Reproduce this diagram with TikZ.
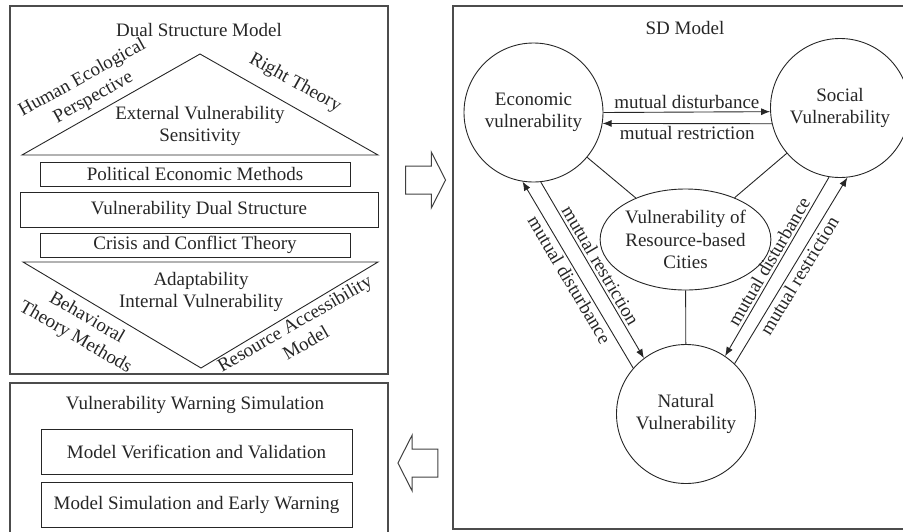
\documentclass[tikz,border=0pt]{standalone}
\usepackage{fontspec}
\setmainfont{Liberation Serif}
\usetikzlibrary{arrows.meta, positioning, shapes.geometric, shapes.arrows}

\begin{document}
\begin{tikzpicture}[
  x=1pt, y=-1pt,
  color=black!85,
  font=\fontsize{19}{22.5}\selectfont,
  >=Latex,
  frame/.style={draw=black!70,line width=1.4pt},
  box/.style={draw,line width=1pt,minimum height=24pt,inner sep=0pt},
  vul/.style={circle,draw,line width=0.9pt,minimum size=139pt,align=center,inner sep=0pt},
  core/.style={ellipse,draw,line width=0.9pt,minimum width=159pt,minimum height=101pt,align=center,inner sep=0pt},
  tag/.style={align=center,inner sep=0pt},
  arr/.style={-{Latex[length=9pt,width=7pt]},line width=0.9pt},
  link/.style={line width=0.9pt},
  lbl/.style={inner sep=2.5pt},
  bigarrow/.style={single arrow,draw=black!75,line width=1pt,minimum height=40pt,inner xsep=0pt,inner ysep=13.5pt,single arrow head extend=14pt,single arrow tip angle=126}
]
\clip (0,0) rectangle (903,531);
\draw[frame] (10,6) rectangle (388,374);
\draw[frame] (10,383) rectangle (388,545);
\draw[frame] (453,6) rectangle (915,529);

\node[tag] (dsmtitle) at (199,30) {Dual Structure Model};
\draw[link] (22,155) -- (200,54) -- (378,155) -- cycle;
\node[tag,rotate=29] (hep) at (88,88) {Human Ecological\\Perspective};
\node[tag,rotate=-29] (rt) at (295,83) {Right Theory};
\node[tag] (ext) at (200,126) {External Vulnerability\\Sensitivity};
\node[box,minimum width=310pt] (pem) at (195,174) {Political Economic Methods};
\node[box,minimum width=358pt,minimum height=35pt] (vds) at (199,209.5) {Vulnerability Dual Structure};
\node[box,minimum width=310pt] (cct) at (195,245) {Crisis and Conflict Theory};
\draw[link] (23,262) -- (378,262) -- (201,368) -- cycle;
\node[tag] (int) at (201,292) {Adaptability\\Internal Vulnerability};
\node[tag,rotate=-30] (btm) at (81,328) {Behavioral\\Theory Methods};
\node[tag,rotate=30] (ram) at (300,333) {Resource Accessibility\\Model};

\node[tag] (vwstitle) at (195,405) {Vulnerability Warning Simulation};
\node[box,minimum width=311pt,minimum height=45pt] (mvv) at (196.5,451.5) {Model Verification and Validation};
\node[box,minimum width=311pt,minimum height=45pt] (mse) at (196.5,504.5) {Model Simulation and Early Warning};

\node[bigarrow] (tosd) at (422,180) {};
\node[bigarrow,shape border rotate=180] (towarn) at (421.5,463) {};

\node[tag] (sdtitle) at (685,28) {SD Model};
\node[vul] (eco) at (533.5,112.5) {Economic\\vulnerability};
\node[vul] (soc) at (840,108) {Social\\Vulnerability};
\node[vul] (nat) at (686,414) {Natural\\Vulnerability};
\node[core] (city) at (685.5,239.5) {Vulnerability of\\Resource-based\\Cities};

\draw[arr] (eco.east) -- node[lbl,above] {mutual disturbance} (soc.183);
\draw[arr] (soc.193) -- node[lbl,below] {mutual restriction} (eco.-9.5);
\draw[link] (eco) -- (city);
\draw[link] (soc) -- (city);
\draw[link] (city) -- (nat);
\draw[arr] (nat.139) -- node[lbl,sloped,below] {mutual disturbance} (eco.-99);
\draw[arr] (eco.-84) -- node[lbl,sloped,above] {mutual restriction} (nat.127);
\draw[arr] (soc.-99) -- node[lbl,sloped,above] {mutual disturbance} (nat.56);
\draw[arr] (nat.46) -- node[lbl,sloped,below] {mutual restriction} (soc.-84);
\end{tikzpicture}
\end{document}
